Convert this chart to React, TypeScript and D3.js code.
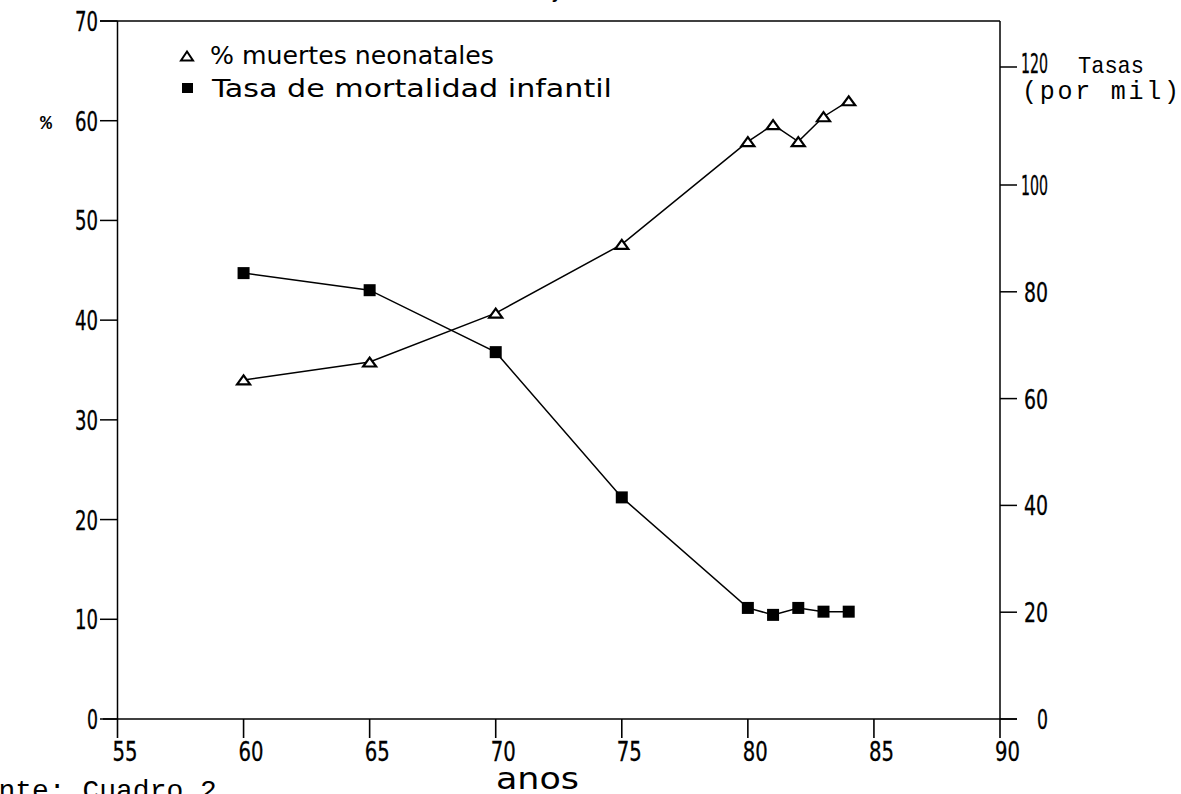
import React from "react";
import * as d3 from "d3";

const years = [60, 65, 70, 75, 80, 81, 82, 83, 84];
const neonatalPct = [34.0, 35.8, 40.7, 47.6, 57.9, 59.6, 57.9, 60.4, 62.0];
const infantRate = [83.5, 80.3, 68.7, 41.5, 20.8, 19.5, 20.8, 20.1, 20.1];
const xTicks = [55, 60, 65, 70, 75, 80, 85, 90];
const leftTicks = [0, 10, 20, 30, 40, 50, 60, 70];
const rightTicks = [0, 20, 40, 60, 80, 100, 120];
const legendLabels = ["% muertes neonatales", "Tasa de mortalidad infantil"];
const xTitle = "anos";
const leftTitle = "%";
const rightTitle = ["Tasas", "(por mil)"];
const sourceNote = "Fuente: Cuadro 2";

const W = 1181;
const H = 794;
const L = 117.5;
const R = 1000;
const T = 21;
const B = 719;

const plotFont = "'DejaVu Sans Condensed', 'Liberation Sans Narrow', 'DejaVu Sans', sans-serif";
const monoFont = "'Liberation Mono', 'DejaVu Sans Mono', 'Courier New', monospace";

const numStyle = { stroke: "#000", strokeWidth: 0.3 };

export default function App() {
  const x = d3.scaleLinear().domain([55, 90]).range([L, R]);
  const yL = d3.scaleLinear().domain([0, 70]).range([B, T]);
  const yR = d3.scaleLinear().domain([0, 100, 120]).range([B, 185, 67]);

  const lineL = d3
    .line<number>()
    .x((_, i) => x(years[i]))
    .y((d) => yL(d));
  const lineR = d3
    .line<number>()
    .x((_, i) => x(years[i]))
    .y((d) => yR(d));

  const tri = (cx: number, cy: number, w = 13, h = 9) =>
    `M${cx - w / 2},${cy + h / 2}L${cx + w / 2},${cy + h / 2}L${cx},${cy - h / 2}Z`;

  const sq = 12;

  return (
    <svg
      width={W}
      height={H}
      style={{ position: "absolute", left: 0, top: 0, background: "#fff" }}
    >
      <rect x={0} y={0} width={W} height={H} fill="#fff" />
      {/* cut title */}
      <text x={551} y={-3} fontFamily={plotFont} fontSize={24} fill="#000">
        y
      </text>

      {/* frame */}
      <g stroke="#000" strokeWidth={1.5} fill="none">
        <line x1={100} y1={T} x2={R} y2={T} />
        <line x1={L} y1={T} x2={L} y2={B} />
        <line x1={R} y1={T} x2={R} y2={B} />
        <line x1={103} y1={B} x2={1017} y2={B} />
      </g>

      {/* x ticks */}
      {xTicks.map((t) => (
        <g key={"x" + t}>
          <line x1={x(t)} y1={B} x2={x(t)} y2={738} stroke="#000" strokeWidth={1.6} />
          <text
            x={x(t) - 5}
            y={761}
            fontFamily={plotFont}
            fontSize={26}
            textLength={25}
            lengthAdjust="spacingAndGlyphs"
            fill="#000"
            {...numStyle}
          >
            {t}
          </text>
        </g>
      ))}

      {/* left ticks */}
      {leftTicks.map((t) => {
        const s = String(t);
        const w = s.length === 1 ? 11 : 23;
        return (
          <g key={"l" + t}>
            <line x1={100} y1={yL(t)} x2={L} y2={yL(t)} stroke="#000" strokeWidth={1.5} />
            <text
              x={98 - w}
              y={yL(t) + 10}
              fontFamily={plotFont}
              fontSize={26}
              textLength={w}
              lengthAdjust="spacingAndGlyphs"
              fill="#000"
              {...numStyle}
            >
              {s}
            </text>
          </g>
        );
      })}

      {/* right ticks */}
      {rightTicks.map((t) => {
        const s = String(t);
        const w = s.length === 1 ? 11 : s.length === 2 ? 24 : 27;
        return (
          <g key={"r" + t}>
            <line x1={R} y1={yR(t)} x2={1017} y2={yR(t)} stroke="#000" strokeWidth={1.5} />
            <text
              x={1048 - w}
              y={yR(t) + (t === 120 ? 6 : 10)}
              fontFamily={plotFont}
              fontSize={26}
              textLength={w}
              lengthAdjust="spacingAndGlyphs"
              fill="#000"
              {...numStyle}
            >
              {s}
            </text>
          </g>
        );
      })}

      {/* axis titles */}
      <text
        x={1078}
        y={73}
        fontFamily={monoFont}
        fontSize={24}
        textLength={66}
        lengthAdjust="spacingAndGlyphs"
        fill="#000"
      >
        {rightTitle[0]}
      </text>
      <text
        x={1022}
        y={99}
        fontFamily={monoFont}
        fontSize={25}
        textLength={157}
        lengthAdjust="spacing"
        fill="#000"
      >
        {rightTitle[1]}
      </text>
      <text x={40} y={129} fontFamily={monoFont} fontSize={20} fontWeight="bold" fill="#000">
        {leftTitle}
      </text>
      <text
        x={496}
        y={789}
        fontFamily={plotFont}
        fontSize={31}
        textLength={83}
        lengthAdjust="spacingAndGlyphs"
        fill="#000"
      >
        {xTitle}
      </text>
      <text x={-52} y={799} fontFamily={monoFont} fontSize={28} fill="#000">
        {sourceNote}
      </text>

      {/* legend */}
      <path d={tri(187, 56, 12, 9)} fill="none" stroke="#000" strokeWidth={2} />
      <text
        x={210}
        y={64}
        fontFamily={plotFont}
        fontSize={25}
        textLength={284}
        lengthAdjust="spacingAndGlyphs"
        fill="#000"
      >
        {legendLabels[0]}
      </text>
      <rect x={182} y={83} width={11} height={10} fill="#000" />
      <text
        x={212}
        y={97}
        fontFamily={plotFont}
        fontSize={25}
        textLength={400}
        lengthAdjust="spacingAndGlyphs"
        fill="#000"
      >
        {legendLabels[1]}
      </text>

      {/* series */}
      <path d={lineL(neonatalPct) || ""} fill="none" stroke="#000" strokeWidth={1.5} />
      <path d={lineR(infantRate) || ""} fill="none" stroke="#000" strokeWidth={1.5} />

      {neonatalPct.map((v, i) => (
        <path
          key={"t" + i}
          d={tri(x(years[i]), yL(v))}
          fill="#fff"
          stroke="#000"
          strokeWidth={2.2}
        />
      ))}
      {infantRate.map((v, i) => (
        <rect
          key={"s" + i}
          x={x(years[i]) - sq / 2}
          y={yR(v) - sq / 2}
          width={sq}
          height={sq}
          fill="#000"
        />
      ))}
    </svg>
  );
}
